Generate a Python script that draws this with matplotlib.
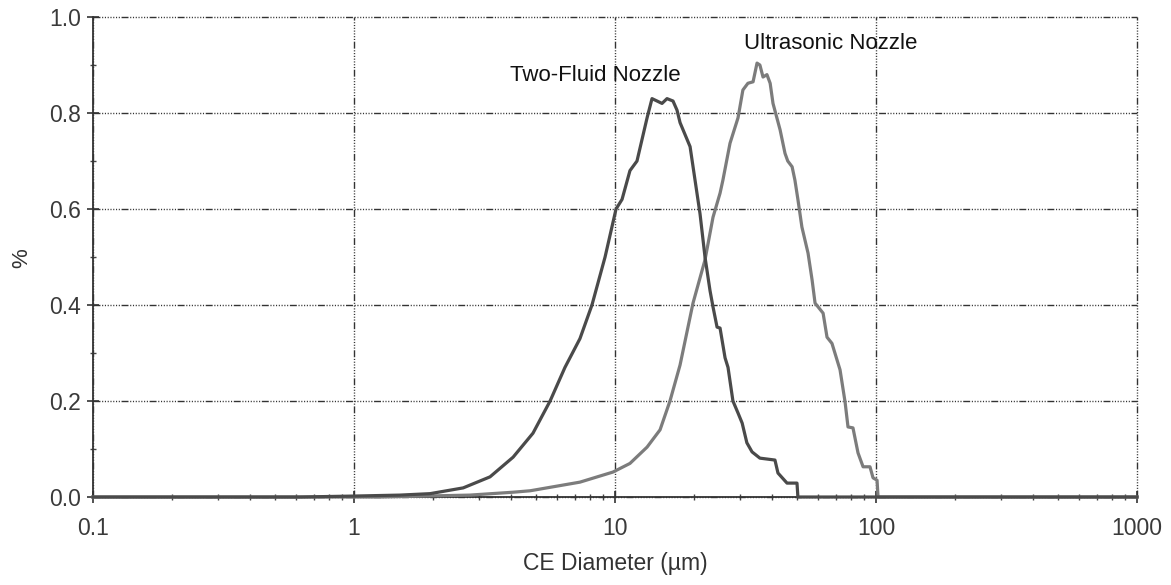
import matplotlib
matplotlib.use("Agg")
import matplotlib.pyplot as plt
from matplotlib.ticker import LogLocator, MultipleLocator, NullFormatter

plt.rcParams['font.family'] = ['Liberation Sans', 'DejaVu Sans']

# ---- data ----
two_fluid_x = [0.1, 0.62, 1.0, 1.5, 1.955, 2.62, 3.32, 4.07, 4.85, 5.64, 6.43, 7.34, 8.16, 9.16,
               10.09, 10.64, 11.41, 12.14, 13.27, 13.86, 14.49, 15.14, 15.82, 16.68, 17.28, 17.75,
               19.39, 20.26, 21.17, 22.12, 23.12, 23.74, 24.6, 25.26, 26.4, 27.1, 28.3, 29.6, 30.7,
               32.0, 33.5, 35.9, 41.0, 42.1, 45.6, 49.8, 50.2, 1000]
two_fluid_y = [0.0, 0.0, 0.002, 0.004, 0.007, 0.019, 0.042, 0.083, 0.133, 0.2, 0.27, 0.33, 0.4, 0.5,
               0.6, 0.62, 0.68, 0.70, 0.79, 0.83, 0.825, 0.82, 0.83, 0.825, 0.806, 0.78,
               0.73, 0.66, 0.59, 0.5, 0.43, 0.396, 0.354, 0.352, 0.29, 0.27, 0.2, 0.175, 0.154,
               0.113, 0.094, 0.081, 0.077, 0.05, 0.029, 0.029, 0.0, 0.0]

ultra_x = [0.1, 1.26, 2.78, 4.07, 4.73, 7.34, 9.82, 11.41, 13.27, 14.88, 16.24, 17.75, 19.9, 22.12,
           23.74, 25.26, 25.9, 27.58, 29.6, 30.9, 32.3, 33.8, 35.0, 35.9, 36.9, 38.2, 39.3, 40.3,
           42.9, 44.8, 45.9, 47.7, 48.9, 50.2, 52.0, 54.9, 56.9, 58.4, 62.7, 64.9, 67.8, 72.8,
           76.1, 78.1, 81.6, 85.3, 89.2, 94.8, 97.4, 100.9, 101.8, 1000]
ultra_y = [0.0, 0.0, 0.004, 0.01, 0.013, 0.031, 0.052, 0.07, 0.104, 0.14, 0.2, 0.275, 0.404, 0.494,
           0.583, 0.633, 0.66, 0.737, 0.79, 0.848, 0.862, 0.865, 0.904, 0.9, 0.875, 0.88, 0.862, 0.82,
           0.765, 0.716, 0.70, 0.688, 0.66, 0.62, 0.5625, 0.508, 0.452, 0.404, 0.383, 0.333, 0.32, 0.265,
           0.198, 0.146, 0.144, 0.092, 0.063, 0.063, 0.04, 0.035, 0.0, 0.0]

y_ticks = [0.0, 0.2, 0.4, 0.6, 0.8, 1.0]
x_ticks = [0.1, 1, 10, 100, 1000]
x_tick_labels = ['0.1', '1', '10', '100', '1000']
label_two_fluid = 'Two-Fluid Nozzle'
label_ultra = 'Ultrasonic Nozzle'

# ---- figure ----
fig = plt.figure(figsize=(11.71, 5.85), dpi=100)
ax = fig.add_axes([0.0794, 0.1504, 0.8916, 0.8205])

dots = (0.8, 1.2) * 7
grid_ls = (0, (5.0, 1.2) + dots)
ax.set_xscale('log')
ax.set_xlim(0.1, 1000)
ax.set_ylim(0, 1.0)
ax.set_xticks(x_ticks)
ax.set_xticklabels(x_tick_labels)
ax.xaxis.set_minor_locator(LogLocator(base=10, subs=range(2, 10), numticks=20))
ax.xaxis.set_minor_formatter(NullFormatter())
ax.set_yticks(y_ticks)
ax.set_yticklabels([f'{v:.1f}' for v in y_ticks])
ax.yaxis.set_minor_locator(MultipleLocator(0.1))

ax.grid(True, which='major', color='#333333', linewidth=1.0, linestyle=grid_ls)
ax.set_axisbelow(True)
for gl in ax.get_xgridlines() + ax.get_ygridlines():
    gl.set_clip_on(False)

for s in ['top', 'right']:
    ax.spines[s].set_visible(False)
for s in ['left', 'bottom']:
    ax.spines[s].set_color('#333333')
    ax.spines[s].set_linewidth(1.3)

ax.tick_params(axis='both', which='major', direction='inout', length=9, width=1.2,
               color='#333333', labelsize=16.5, labelcolor='#3a3a3a')
ax.tick_params(axis='both', which='minor', direction='inout', length=5, width=1.0, color='#444444')
ax.tick_params(axis='x', which='major', pad=10)
ax.tick_params(axis='y', which='major', pad=4)

ax.plot(ultra_x, ultra_y, color='#7c7c7c', linewidth=2.3, clip_on=False, zorder=3)
ax.plot(two_fluid_x, two_fluid_y, color='#4a4a4a', linewidth=2.3, clip_on=False, zorder=4)

ax.text(3.96, 0.879, label_two_fluid, fontsize=16, color='#111111', va='center', ha='left')
ax.text(31.2, 0.944, label_ultra, fontsize=16, color='#111111', va='center', ha='left')

ax.set_ylabel('%', fontsize=16, color='#333333')
ax.yaxis.set_label_coords(-0.058, 0.498)
ax.set_xlabel('CE Diameter (µm)', fontsize=16.5, color='#333333')
ax.xaxis.set_label_coords(0.5, -0.115)

fig.savefig('out.png', dpi=100)
